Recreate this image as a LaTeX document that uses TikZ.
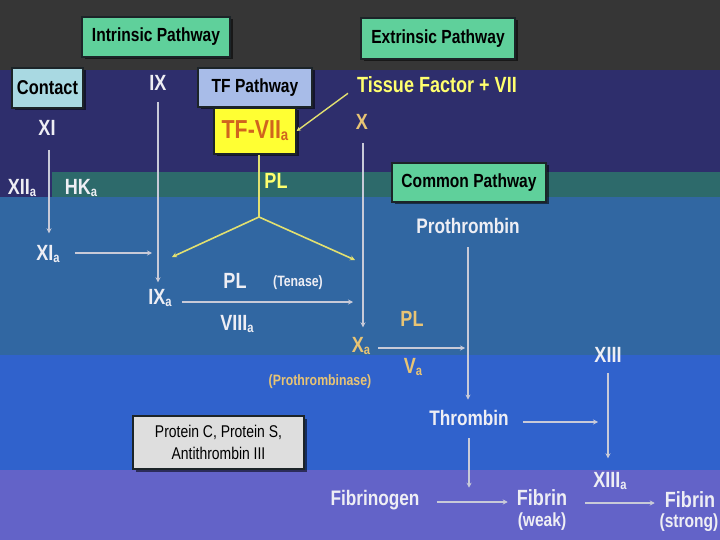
\documentclass[tikz,border=0pt]{standalone}
\usepackage{fontspec}
\setmainfont{Liberation Sans}[FakeStretch=0.82]
\usetikzlibrary{arrows.meta,shadows}
\definecolor{bggray}{HTML}{363636}
\definecolor{bgnavy}{HTML}{2E2E6C}
\definecolor{bgteal}{HTML}{2D6A6B}
\definecolor{bgsteel}{HTML}{3167A2}
\definecolor{bgblue}{HTML}{3062CC}
\definecolor{bgpurple}{HTML}{6363C8}
\definecolor{mint}{HTML}{5FD09B}
\definecolor{contactc}{HTML}{A9D9E2}
\definecolor{tfpc}{HTML}{A8BCE8}
\definecolor{tfyel}{HTML}{FFFF33}
\definecolor{tforange}{HTML}{D0641E}
\definecolor{protc}{HTML}{DEDEDE}
\definecolor{wht}{HTML}{EEEEF4}
\definecolor{tanc}{HTML}{E8C474}
\definecolor{yel}{HTML}{FFFF6E}
\definecolor{lnc}{HTML}{C8CAD8}
\definecolor{ylnc}{HTML}{E2E070}
\definecolor{bdr}{HTML}{1C2428}
\newcommand\sba{\raisebox{-0.08em}{\scalebox{0.62}{a}}}
\begin{document}
\begin{tikzpicture}[x=1pt,y=-1pt,
  box/.style={draw=bdr, line width=1.4pt, fill=mint, text=black, font=\bfseries\fontsize{19}{22}\selectfont, inner sep=0pt, drop shadow={shadow xshift=2.5pt, shadow yshift=-2.5pt, fill=black, opacity=0.55}},
  lab/.style={inner sep=0pt, text=wht, font=\bfseries\fontsize{22}{24}\selectfont},
  word/.style={inner sep=0pt, text=wht, font=\bfseries\fontsize{21}{24}\selectfont},
  small/.style={inner sep=0pt, font=\bfseries\fontsize{15}{17}\selectfont},
  paren/.style={inner sep=0pt, text=wht, font=\bfseries\fontsize{19}{21}\selectfont},
  arr/.style={draw=lnc, line width=1.6pt, -{Stealth[length=5pt,width=5pt]}},
  yarr/.style={draw=ylnc, line width=1.6pt, -{Stealth[length=5pt,width=5pt]}},
  yln/.style={draw=ylnc, line width=1.6pt},
]
% background bands
\fill[bggray] (0,0) rectangle (720,70);
\fill[bgnavy] (0,70) rectangle (720,172);
\fill[bgnavy] (0,172) rectangle (52,197);
\fill[bgteal] (52,172) rectangle (720,197);
\fill[bgsteel] (0,197) rectangle (720,355);
\fill[bgblue] (0,355) rectangle (720,470);
\fill[bgpurple] (0,470) rectangle (720,540);
\useasboundingbox (0,0) rectangle (720,540);

% boxes
\node[box, minimum width=148pt, minimum height=40pt] (intr) at (156,37) {Intrinsic Pathway};
\node[box, minimum width=154pt, minimum height=41pt] (extr) at (438,38.5) {Extrinsic Pathway};
\node[box, fill=contactc, font=\bfseries\fontsize{20}{22}\selectfont, minimum width=71pt, minimum height=40pt] (contact) at (47.5,88) {Contact};
\node[box, fill=tfpc, minimum width=114pt, minimum height=39pt] (tfp) at (255,87.5) {TF Pathway};
\node[box, fill=tfyel, text=tforange, font=\bfseries\fontsize{26}{28}\selectfont, minimum width=82pt, minimum height=46pt] (tf7a) at (255,131) {TF-VII\sba};
\node[box, minimum width=154pt, minimum height=39pt] (common) at (469,182.5) {Common Pathway};
\node[box, fill=protc, font=\fontsize{17}{22}\selectfont, align=center, minimum width=171pt, minimum height=53pt] (prot) at (218.5,442.5) {Protein C, Protein S,\\Antithrombin III};

% labels
\node[lab] (IX) at (158,83) {IX};
\node[lab, text=yel] (tfvii) at (437,85) {Tissue Factor + VII};
\node[lab, text=tanc] (X) at (362,122) {X};
\node[lab] (XI) at (47,128) {XI};
\node[lab] (XIIa) at (22,188) {XII\sba};
\node[lab] (HKa) at (81,188) {HK\sba};
\node[lab] (XIa) at (48,254) {XI\sba};
\node[lab, text=yel] (PLy) at (276,181) {PL};
\node[lab] (IXa) at (160,298) {IX\sba};
\node[lab] (PLw) at (235,281) {PL};
\node[small, text=wht] (tenase) at (298,283) {(Tenase)};
\node[lab] (VIIIa) at (237,324) {VIII\sba};
\node[lab, text=tanc] (Xa) at (361,346) {X\sba};
\node[lab, text=tanc] (PLt) at (412,319) {PL};
\node[lab, text=tanc] (Va) at (413,367) {V\sba};
\node[small, text=tanc] (prothase) at (320,382) {(Prothrombinase)};
\node[word] (proth) at (468,226) {Prothrombin};
\node[word] (thromb) at (469,418) {Thrombin};
\node[lab] (XIII) at (608,355) {XIII};
\node[lab] (XIIIa) at (610,481) {XIII\sba};
\node[word] (fibgen) at (375,500) {Fibrinogen};
\node[lab] (fib1) at (542,498) {Fibrin};
\node[paren] (weak) at (542,522) {(weak)};
\node[lab] (fib2) at (690,500) {Fibrin};
\node[paren] (strong) at (689,523) {(strong)};

% connectors
\coordinate (split) at (259,217);
\coordinate (plL) at (172,257);
\coordinate (plR) at (355,260);

\draw[arr, shorten <=14pt, shorten >=12pt] ([xshift=2pt]XI.south) -- ([xshift=2pt]XI.south |- XIa.north);
\draw[arr, shorten <=15pt, shorten >=6pt] ([yshift=1pt]XIa.east) -- ([yshift=1pt]XIa.east -| IX.south);
\draw[arr, shorten <=11pt, shorten >=7pt] (IX.south) -- (IX.south |- IXa.north);
\draw[yln] (tf7a.south -| split) -- (split);
\draw[yarr] (split) -- (plL);
\draw[yarr] (split) -- (plR);
\draw[arr, shorten <=10pt, shorten >=9pt] ([yshift=-4pt]IXa.east) -- ([yshift=-4pt]IXa.east -| X.south);
\draw[arr, shorten <=13pt, shorten >=10pt] ([xshift=1pt]X.south) -- ([xshift=1pt]X.south |- Xa.north);
\draw[yln, line width=1.4pt, -{Stealth[length=4pt,width=4pt]}] ([xshift=-9pt]tfvii.south west) -- (tf7a.east);
\draw[arr, shorten <=8pt, shorten >=3pt] ([yshift=-2pt]Xa.east) -- ([yshift=-2pt]Xa.east -| proth.south);
\draw[arr, shorten <=13.5pt, shorten >=10.5pt] (proth.south) -- (proth.south |- thromb.north);
\draw[arr, shorten <=14pt, shorten >=10pt] ([yshift=-4pt]thromb.east) -- ([yshift=-4pt]thromb.east -| XIII.south);
\draw[arr, shorten <=10pt, shorten >=14pt] (XIII.south) -- (XIII.south |- XIIIa.north);
\draw[arr, shorten <=12.5pt, shorten >=2pt] (thromb.south) -- (thromb.south |- fib1.north);
\draw[arr, shorten <=17pt, shorten >=9pt] ([yshift=-2pt]fibgen.east) -- ([yshift=-2pt]fibgen.east -| fib1.west);
\draw[arr, shorten <=18pt, shorten >=10pt] ([yshift=-5pt]fib1.east) -- ([yshift=-5pt]fib1.east -| fib2.west);
\end{tikzpicture}
\end{document}
